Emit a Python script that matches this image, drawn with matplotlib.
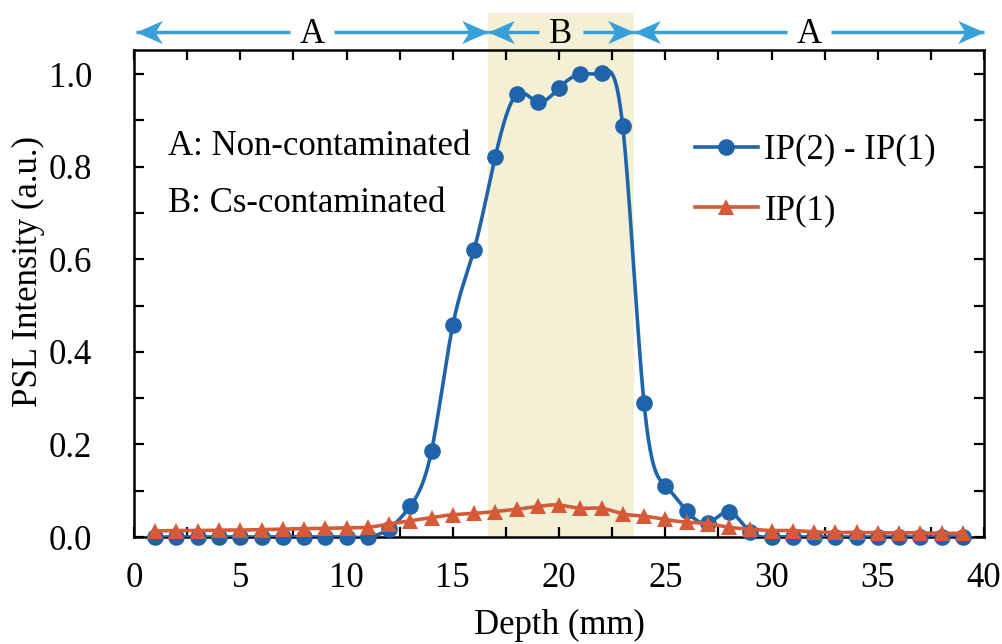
import numpy as np
import matplotlib
matplotlib.use("Agg")
import matplotlib.pyplot as plt
from matplotlib.path import Path
from matplotlib.lines import Line2D
from matplotlib.ticker import MultipleLocator
import matplotlib.transforms as mtransforms

# ---- data ----
depth = np.arange(1, 40)
ip_diff = [0.0, 0.0, 0.0, 0.0, 0.0, 0.0, 0.0, 0.0, 0.0, 0.0,
           0.0, 0.018, 0.067, 0.186, 0.457, 0.62, 0.821, 0.956, 0.94, 0.97,
           1.0, 1.003, 0.887, 0.29, 0.111, 0.057, 0.03, 0.054, 0.011, 0.0,
           0.0, 0.0, 0.0, 0.0, 0.0, 0.0, 0.0, 0.0, 0.0]
ip1 = [0.013, 0.014, 0.014, 0.015, 0.015, 0.016, 0.017, 0.018, 0.019, 0.020,
       0.021, 0.028, 0.035, 0.042, 0.048, 0.051, 0.055, 0.060, 0.066, 0.069,
       0.062, 0.062, 0.050, 0.045, 0.038, 0.032, 0.029, 0.021, 0.017, 0.014,
       0.014, 0.011, 0.010, 0.010, 0.009, 0.009, 0.009, 0.008, 0.008]
series_labels = ["IP(2) - IP(1)", "IP(1)"]
region_b = (16.64, 23.54)
region_spans = [(0.1, 16.64, "A"), (16.64, 23.54, "B"), (23.54, 40.0, "A")]
notes = ["A: Non-contaminated", "B: Cs-contaminated"]

BLUE = "#1f64aa"
ORANGE = "#d65a37"
ARROW = "#37a0d8"
BAND = "#f4f0d5"

plt.rcParams["font.family"] = ["Liberation Serif", "DejaVu Serif"]
FS = 25


def natural_spline(x, y, per=24):
    x = np.asarray(x, float)
    y = np.asarray(y, float)
    n = len(x)
    h = np.diff(x)
    A = np.zeros((n, n))
    b = np.zeros(n)
    A[0, 0] = 1.0
    A[-1, -1] = 1.0
    for i in range(1, n - 1):
        A[i, i - 1] = h[i - 1]
        A[i, i] = 2 * (h[i - 1] + h[i])
        A[i, i + 1] = h[i]
        b[i] = 6 * ((y[i + 1] - y[i]) / h[i] - (y[i] - y[i - 1]) / h[i - 1])
    M = np.linalg.solve(A, b)
    xs, ys = [], []
    for i in range(n - 1):
        t = np.linspace(x[i], x[i + 1], per, endpoint=False)
        a = x[i + 1] - t
        c = t - x[i]
        s = (M[i] * a ** 3 + M[i + 1] * c ** 3) / (6 * h[i]) \
            + (y[i] / h[i] - M[i] * h[i] / 6) * a \
            + (y[i + 1] / h[i] - M[i + 1] * h[i] / 6) * c
        xs.append(t)
        ys.append(s)
    xs.append([x[-1]])
    ys.append([y[-1]])
    return np.concatenate(xs), np.concatenate(ys)


fig = plt.figure(figsize=(10.03, 6.44), dpi=100)
ax = fig.add_axes([134 / 1003, 107 / 644, 850 / 1003, 487 / 644])
ax.set_xlim(0, 40)
ax.set_ylim(0, 1.052)

# shaded contaminated region (extends above the frame up to the arrows)
trans = mtransforms.blended_transform_factory(ax.transData, ax.transAxes)
band = plt.Rectangle((region_b[0], 0), region_b[1] - region_b[0], 1.076,
                     transform=trans, facecolor=BAND, edgecolor="none",
                     zorder=0, clip_on=False)
ax.add_patch(band)

# curves
lw = 2.6
ms = 12
xb, yb = natural_spline(depth, ip_diff)
ax.plot(xb, yb, color=BLUE, lw=lw, zorder=3)
ax.plot(depth, ip_diff, ls="none", marker="o", ms=ms, mew=0, color=BLUE,
        zorder=4, clip_on=False)
xo, yo = natural_spline(depth, ip1)
ax.plot(xo, yo, color=ORANGE, lw=lw, zorder=5)
ax.plot(depth, ip1, ls="none", marker="^", ms=ms, mew=0, color=ORANGE,
        zorder=6, clip_on=False)

# axes styling
for sp in ax.spines.values():
    sp.set_linewidth(1.8)
ax.xaxis.set_major_locator(MultipleLocator(5))
ax.xaxis.set_minor_locator(MultipleLocator(2.5))
ax.yaxis.set_major_locator(MultipleLocator(0.2))
ax.yaxis.set_minor_locator(MultipleLocator(0.1))
ax.yaxis.set_major_formatter(matplotlib.ticker.FormatStrFormatter("%.1f"))
ax.tick_params(which="both", direction="in", top=True, right=True,
               length=7.5, width=1.6)
ax.tick_params(axis="x", which="both", pad=18, labelsize=FS)
ax.tick_params(axis="y", which="both", pad=30, labelsize=FS)

ax.set_xlabel("Depth (mm)", fontsize=FS)
ax.set_ylabel("PSL Intensity (a.u.)", fontsize=FS)
ax.xaxis.set_label_coords(0.5, -0.2)
ax.xaxis.label.set_va("baseline")
ax.yaxis.set_label_coords(-0.124, 0.546)
ax.yaxis.label.set_va("center")

# region arrows above the frame
head_r = Path([(0, 0), (-1, 0.44), (-0.72, 0), (-1, -0.44), (0, 0)],
              [Path.MOVETO, Path.LINETO, Path.LINETO, Path.LINETO, Path.CLOSEPOLY])
head_l = Path([(0, 0), (1, 0.44), (0.72, 0), (1, -0.44), (0, 0)],
              [Path.MOVETO, Path.LINETO, Path.LINETO, Path.LINETO, Path.CLOSEPOLY])
y_arrow = 1.037
gap = 1.05
for x0, x1, lab in region_spans:
    xm = 0.5 * (x0 + x1)
    for a, b_ in ((x0, xm - gap), (xm + gap, x1)):
        ax.plot([a, b_], [y_arrow, y_arrow], transform=trans, color=ARROW,
                lw=2.5, solid_capstyle="butt", clip_on=False, zorder=2)
    ax.plot([x0], [y_arrow], transform=trans, marker=head_l, ms=38, mew=0,
            color=ARROW, clip_on=False, zorder=2)
    ax.plot([x1], [y_arrow], transform=trans, marker=head_r, ms=38, mew=0,
            color=ARROW, clip_on=False, zorder=2)
    ax.text(xm, 1.0144, lab, transform=trans, ha="center", va="baseline",
            fontsize=FS, zorder=2)

# region notes
ax.text(0.04, 0.784, notes[0], transform=ax.transAxes, fontsize=FS,
        va="baseline", ha="left")
ax.text(0.04, 0.667, notes[1], transform=ax.transAxes, fontsize=FS,
        va="baseline", ha="left")

handles = [Line2D([], [], color=BLUE, lw=lw, marker="o", ms=ms, mew=0),
           Line2D([], [], color=ORANGE, lw=lw, marker="^", ms=ms, mew=0)]
ax.legend(handles, series_labels, loc="upper left", bbox_to_anchor=(0.66, 0.828),
          frameon=False, fontsize=FS, handlelength=1.8, handletextpad=0.2,
          labelspacing=0.8, borderpad=0, borderaxespad=0, numpoints=1)

fig.savefig("out.png", dpi=100)
